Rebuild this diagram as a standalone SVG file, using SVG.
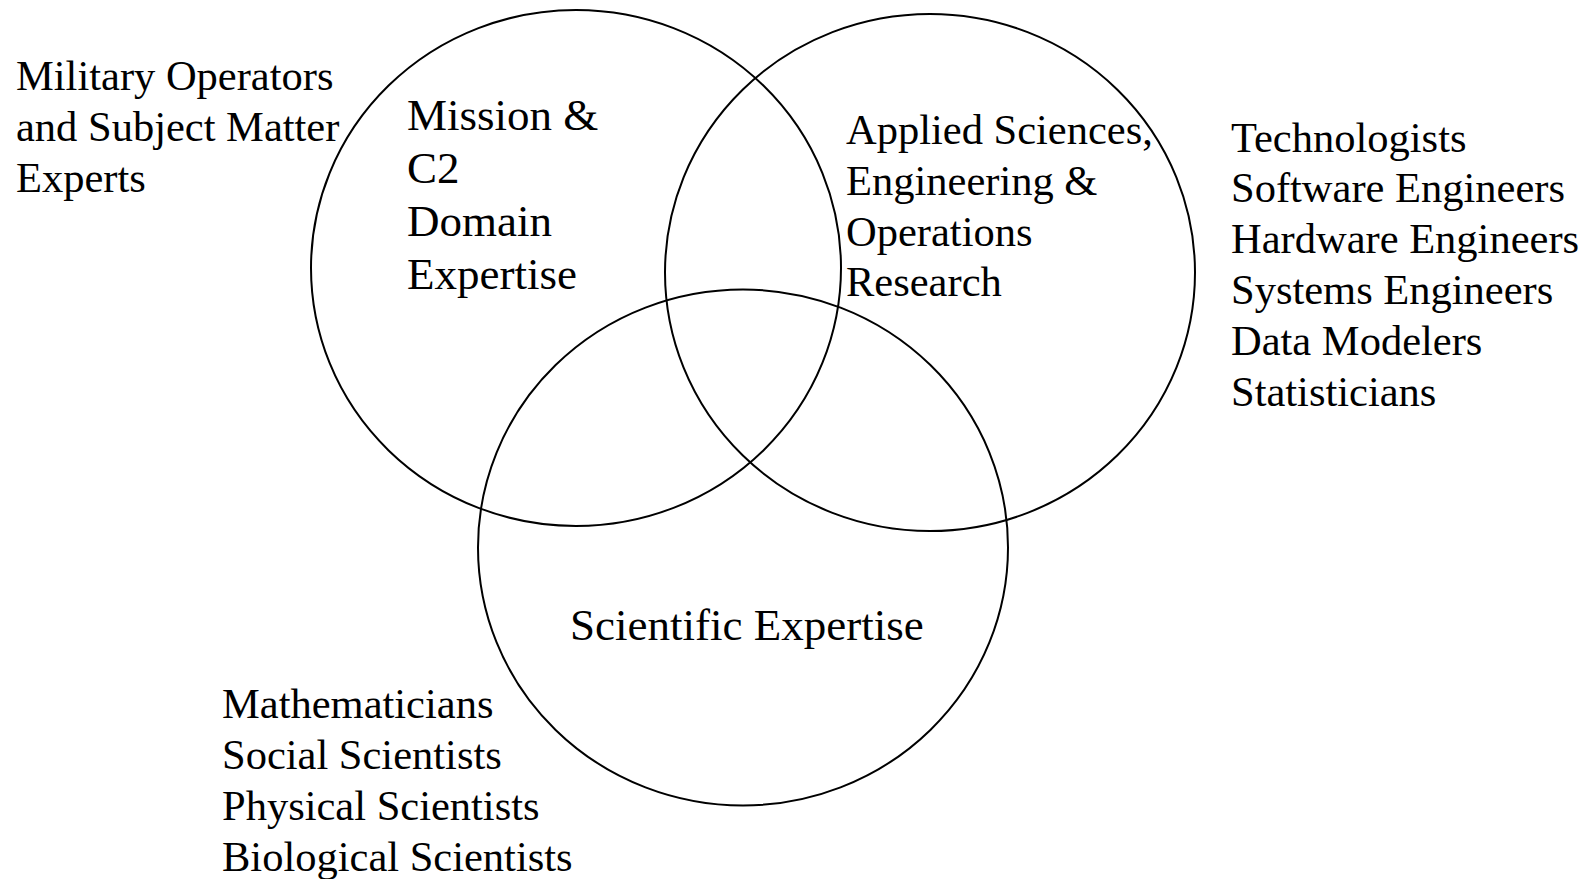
<svg xmlns="http://www.w3.org/2000/svg" width="1593" height="879" viewBox="0 0 1593 879">
<style>
.c{fill:none;stroke:#000;stroke-width:2}
text{font-family:"Liberation Serif","Times New Roman",serif;fill:#000}
.s{font-size:42.5px}
.l{font-size:45px}
</style>
<rect width="1593" height="879" fill="#fff"/>
<g id="circles">
<g id="mission"><ellipse class="c" cx="576" cy="268" rx="265" ry="258"/>
<text class="l" x="407" y="130">Mission &amp;</text>
<text class="l" x="407" y="183">C2</text>
<text class="l" x="407" y="236">Domain</text>
<text class="l" x="407" y="289">Expertise</text></g>
<g id="applied"><ellipse class="c" cx="930" cy="272.5" rx="265" ry="258.5"/>
<text class="s" x="846" y="144">Applied Sciences,</text>
<text class="s" x="846" y="195">Engineering &amp;</text>
<text class="s" x="846" y="245.5">Operations</text>
<text class="s" x="846" y="296">Research</text></g>
<g id="scientific"><ellipse class="c" cx="743" cy="547.5" rx="265" ry="258"/>
<text class="l" x="570" y="640">Scientific Expertise</text></g>
</g>
<g id="connectors"/>
<g id="military">
<text class="s" x="16" y="90">Military Operators</text>
<text class="s" x="16" y="141">and Subject Matter</text>
<text class="s" x="16" y="192">Experts</text>
</g>
<g id="tech">
<text class="s" x="1231" y="151.5">Technologists</text>
<text class="s" x="1231" y="202.3">Software Engineers</text>
<text class="s" x="1231" y="253.1">Hardware Engineers</text>
<text class="s" x="1231" y="303.9">Systems Engineers</text>
<text class="s" x="1231" y="354.7">Data Modelers</text>
<text class="s" x="1231" y="405.5">Statisticians</text>
</g>
<g id="sci">
<text class="s" x="222" y="718">Mathematicians</text>
<text class="s" x="222" y="769">Social Scientists</text>
<text class="s" x="222" y="820">Physical Scientists</text>
<text class="s" x="222" y="871">Biological Scientists</text>
</g>
</svg>
